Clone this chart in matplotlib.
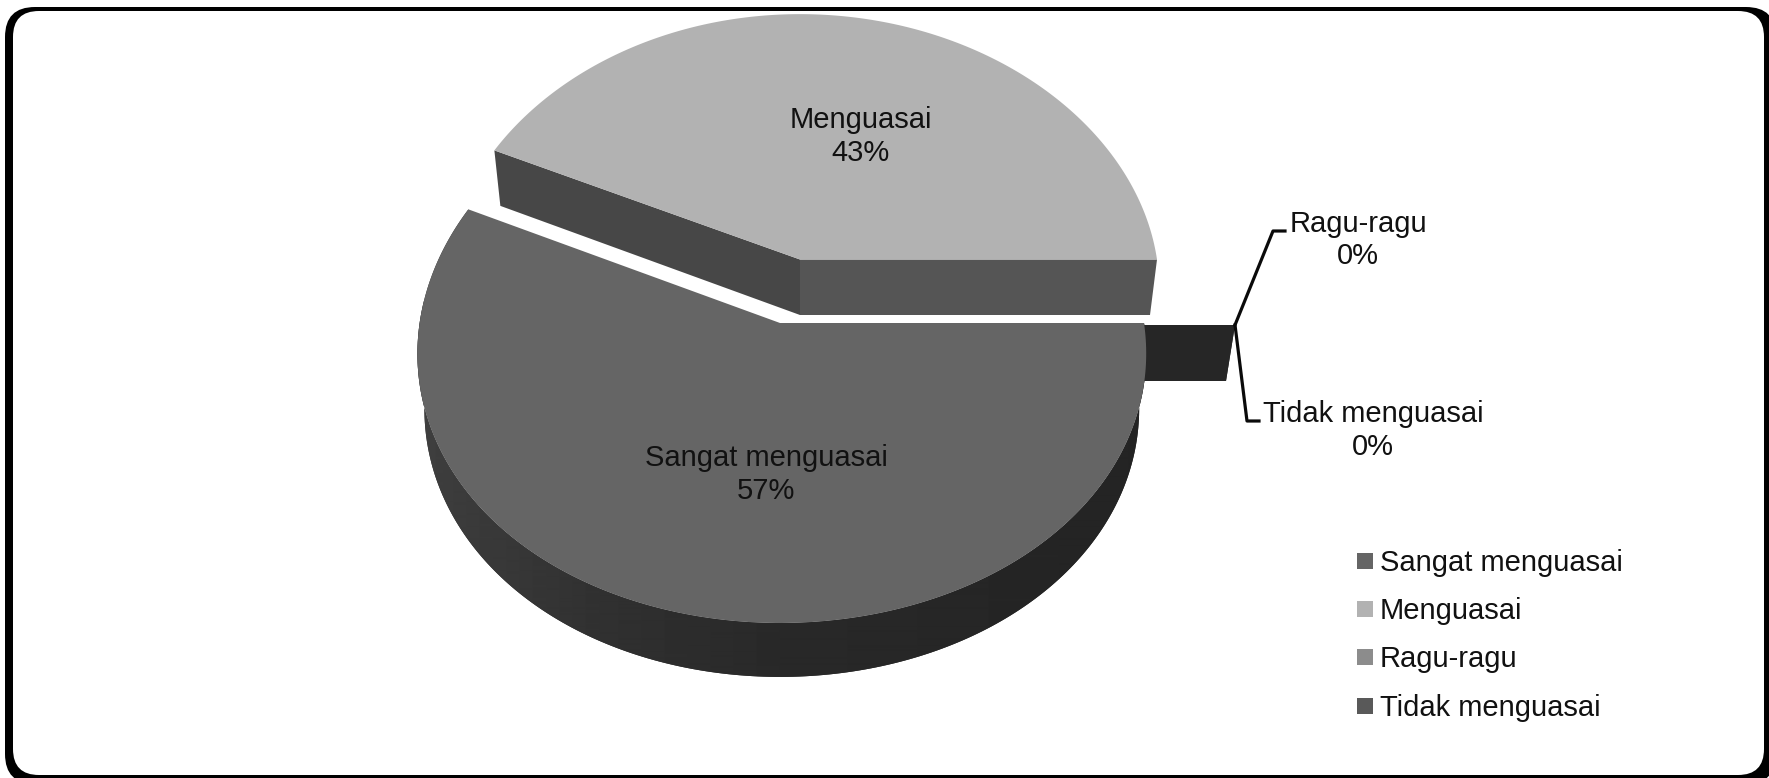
import numpy as np
import matplotlib
matplotlib.use("Agg")
import matplotlib.pyplot as plt
from matplotlib.patches import FancyBboxPatch, Polygon, Rectangle

plt.rcParams['font.family'] = ['Liberation Sans', 'DejaVu Sans']

# Data
labels = ["Sangat menguasai", "Menguasai", "Ragu-ragu", "Tidak menguasai"]
values = [57, 43, 0, 0]
legend_colors = ["#656565", "#b2b2b2", "#8c8c8c", "#595959"]

W, H = 1769, 778
TILT = 0.08      # perspective of the pie plane, vertical
TILT_X = 0.11    # same, horizontal
TEXT = "#111111"
FS = 21.0


def rim(theta, cx, cy, ax_, ay_):
    # point on the tilted pie edge, theta in degrees, 0 = right, positive = far side
    t = np.radians(theta)
    c, s = np.cos(t), np.sin(t)
    squeeze = 1 - 0.005 * (1 - c)   # left half sits slightly narrower
    return np.column_stack([cx + ax_ * c * squeeze / (1 + TILT_X * s),
                            cy - ay_ * s / (1 + TILT * s)])


fig = plt.figure(figsize=(W / 100, H / 100), dpi=100)
ax = fig.add_axes([0, 0, 1, 1])
ax.axis("off")


def round_box(x0, y0, x1, y1, r, color, z):
    ax.add_patch(FancyBboxPatch((x0 + r, y0 + r), x1 - x0 - 2 * r, y1 - y0 - 2 * r,
                                boxstyle=f"round,pad={r},rounding_size={r}",
                                fc=color, ec="none", zorder=z))


# rounded frame: black outer box, white inner box
round_box(5, 7, 1776, 784, 30, "black", 0)
round_box(13, 11, 1764, 775, 26, "white", 0.5)

# slice angles, clockwise from the right
ends = -np.cumsum(values) * 3.6
start_low, end_low = 0.0, ends[0]
start_up, end_up = ends[0], ends[1]

# zero slices only show their cut face
for v in values:
    if v == 0:
        top = rim(0, 870, 325, 365, 276)[0]
        bot = rim(0, 870, 381, 356, 275)[0]
        ax.add_patch(Polygon([(870, 325), top, bot, (870, 381)], fc="#262626", ec="none", zorder=1))

# lower slice: side wall gets a left-to-right shade clipped to its outline
th = np.linspace(start_low, end_low, 241)
r_top = rim(th, 780, 323, 364, 276)
r_bot = rim(th, 780, 378, 357, 275)
wall = Polygon(np.vstack([r_top, r_bot[::-1]]), fc="#2a2a2a", ec="none", zorder=2)
ax.add_patch(wall)
xs = np.arange(400, 1170)
shade = np.interp(xs, [418, 451, 604, 780, 1140], [0.25, 0.235, 0.19, 0.16, 0.14])
im = ax.imshow(shade[None, :], extent=(400, 1170, 700, 300), cmap="gray", vmin=0, vmax=1,
               aspect="auto", interpolation="bilinear", zorder=2.1)
im.set_clip_path(wall)
ax.add_patch(Polygon(np.vstack([[780, 323], r_top]), fc=legend_colors[0], ec="none", zorder=3))

# upper slice pulled out of the pie, sitting behind the lower one
th2 = np.linspace(start_up, end_up, 181)
u_top = rim(th2, 800, 259.5, 357, 265)
left_top, right_top = u_top[0], u_top[-1]
left_bot = rim(start_up, 800, 315, 350, 265)[0]
right_bot = rim(end_up, 800, 315, 350, 265)[0]
ax.add_patch(Polygon([(800, 259.5), left_top, left_bot, (800, 315)], fc="#474747", ec="none", zorder=1.5))
ax.add_patch(Polygon([(800, 259.5), right_top, right_bot, (800, 315)], fc="#555555", ec="none", zorder=1.5))
ax.add_patch(Polygon(np.vstack([[800, 259.5], u_top]), fc=legend_colors[1], ec="none", zorder=1.6))

# data labels
label_pos = [(766, 458, 33), (861, 120, 33), (1358, 224, 32), (1373, 414, 33)]
for name, v, (x, y, gap) in zip(labels, values, label_pos):
    ax.text(x, y, name, ha="center", va="center", fontsize=FS, color=TEXT, zorder=5)
    ax.text(x, y + gap, f"{v}%", ha="center", va="center", fontsize=FS, color=TEXT, zorder=5)

# leader lines for the two zero slices
ax.plot([1235, 1273, 1285], [325, 231, 231], color="#0a0a0a", lw=2.3, zorder=4)
ax.plot([1235, 1247, 1259], [325, 421, 421], color="#0a0a0a", lw=2.3, zorder=4)

# legend
legend_y = [561, 609, 657, 706]
for name, c, y in zip(labels, legend_colors, legend_y):
    ax.add_patch(Rectangle((1357, y - 8), 16, 16, fc=c, ec="none", zorder=4))
    ax.text(1380, y + 2, name, ha="left", va="center", fontsize=FS, color=TEXT, zorder=5)

ax.set_xlim(0, W)
ax.set_ylim(H, 0)
fig.savefig("out.png", dpi=100)
